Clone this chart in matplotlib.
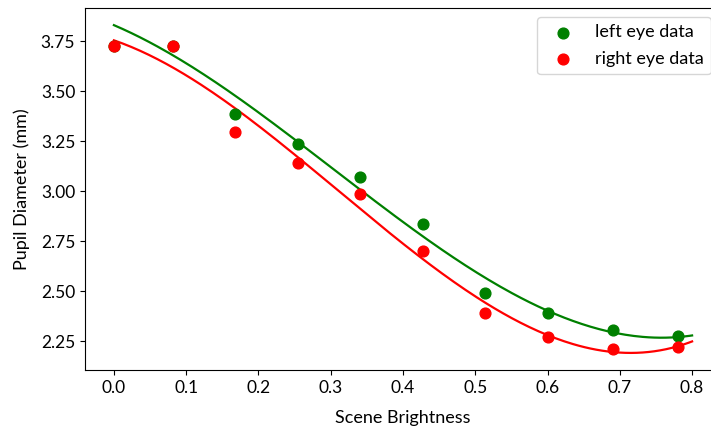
import numpy as np
import matplotlib
matplotlib.use("Agg")
import matplotlib.pyplot as plt

# brightness levels and measured pupil diameters
brightness = [0.0, 0.082, 0.168, 0.255, 0.341, 0.427, 0.513, 0.600, 0.690, 0.780]
left_eye = [3.725, 3.725, 3.383, 3.233, 3.072, 2.837, 2.492, 2.390, 2.303, 2.275]
right_eye = [3.725, 3.725, 3.297, 3.142, 2.983, 2.700, 2.388, 2.268, 2.212, 2.222]

plt.rcParams['font.family'] = ['Lato', 'DejaVu Sans']
plt.rcParams['font.size'] = 12

fig = plt.figure(figsize=(7.11, 4.30), dpi=100)
ax = fig.add_axes([85 / 711, 60 / 430, 636 / 711, 362 / 430])

# cubic fit for each eye (left eye fit ignores the first reading)
xs = np.linspace(0, 0.8, 200)
fit_left = np.polyfit(brightness[1:], left_eye[1:], 3)
fit_right = np.polyfit(brightness, right_eye, 3)

ax.scatter(brightness, left_eye, color='green', s=60, label='left eye data', zorder=3)
ax.scatter(brightness, right_eye, color='red', s=60, label='right eye data', zorder=3)
ax.plot(xs, np.polyval(fit_left, xs), color='green', lw=1.6)
ax.plot(xs, np.polyval(fit_right, xs), color='red', lw=1.6)

ax.set_xlim(-0.04, 0.84)
ax.set_ylim(2.105, 3.915)
ax.set_yticks([2.25, 2.5, 2.75, 3.0, 3.25, 3.5, 3.75])
ax.tick_params(labelsize=12.5)
ax.set_xlabel('Scene Brightness', fontsize=13, labelpad=10)
ax.set_ylabel('Pupil Diameter (mm)', fontsize=13, labelpad=8)
ax.legend(loc='upper right', bbox_to_anchor=(0.9843, 0.975), borderaxespad=0,
          fontsize=13, labelspacing=0.6)

fig.savefig('out.png', dpi=100)
